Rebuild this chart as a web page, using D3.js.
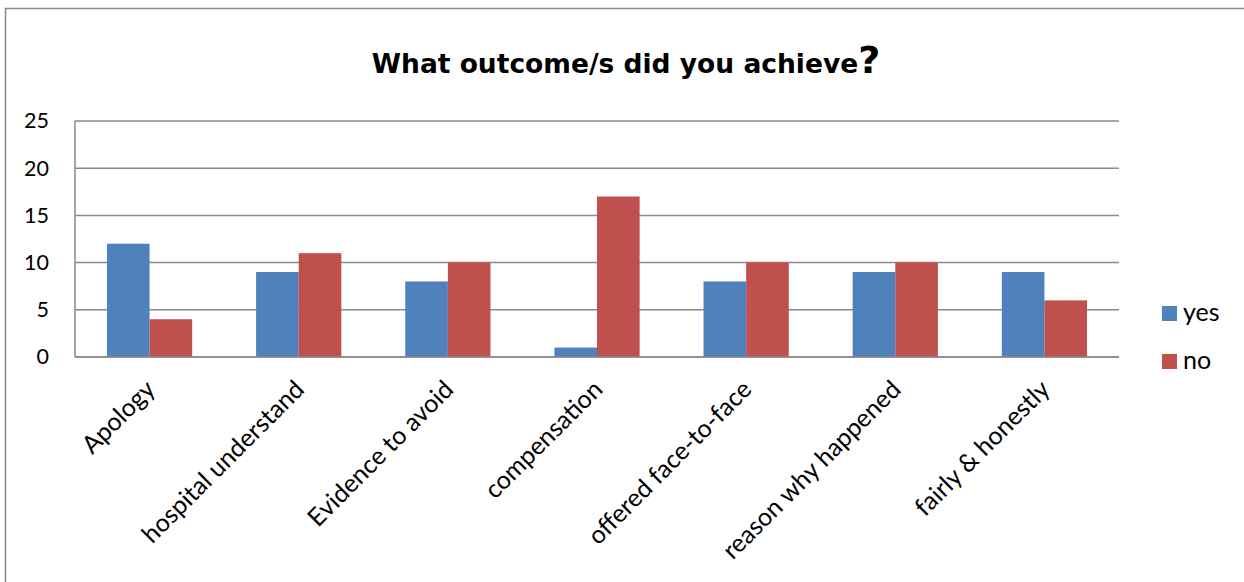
<!DOCTYPE html>
<html>
<head>
<meta charset="utf-8">
<script src="https://cdn.jsdelivr.net/npm/d3@7"></script>
<style>
  html, body { margin: 0; padding: 0; background: #fff; }
  svg { display: block; }
</style>
</head>
<body>
<svg id="chart" width="1244" height="582"></svg>
<script>
// Survey outcomes: counts of "yes" and "no" answers per outcome
const categories = ["Apology", "hospital understand", "Evidence to avoid", "compensation",
                    "offered face-to-face", "reason why happened", "fairly & honestly"];
const yesValues = [12, 9, 8, 1, 8, 9, 9];
const noValues  = [4, 11, 10, 17, 10, 10, 6];
const seriesNames = ["yes", "no"];
const yTicks = [0, 5, 10, 15, 20, 25];

const colors = { yes: "#4F81BD", no: "#C0504D" };
const labelFont = "Lato, 'Open Sans', sans-serif";

const svg = d3.select("#chart");
const W = 1244, H = 582;
const plot = { left: 75, right: 1119, top: 121, bottom: 357 };

// Outer chart frame
svg.append("rect")
  .attr("x", 5.5).attr("y", 8.5)
  .attr("width", W + 10).attr("height", H + 10)
  .attr("fill", "#fff")
  .attr("stroke", "#8a8a8a").attr("stroke-width", 1.5);

// Title
const title = svg.append("text")
  .attr("x", 626).attr("y", 73)
  .attr("text-anchor", "middle")
  .attr("font-family", "'DejaVu Sans', sans-serif")
  .attr("font-weight", "bold")
  .attr("font-size", 26.5)
  .attr("fill", "#000");
title.append("tspan").text("What outcome/s did you achieve");
title.append("tspan").attr("font-size", 38).text("?");

// Scales
const x0 = d3.scaleBand().domain(categories).range([plot.left, plot.right]).paddingInner(0).paddingOuter(0);
const x1 = d3.scaleBand().domain(seriesNames).range([0, x0.bandwidth()]).paddingInner(0).paddingOuter(0.75);
const y = d3.scaleLinear().domain([0, 25]).range([plot.bottom, plot.top]);

// Horizontal gridlines
svg.append("g")
  .selectAll("line")
  .data(yTicks)
  .join("line")
  .attr("x1", plot.left).attr("x2", plot.right)
  .attr("y1", d => y(d)).attr("y2", d => y(d))
  .attr("stroke", "#8a8a8a").attr("stroke-width", 1.5);

// Bars
const rows = categories.map((c, i) => ({ cat: c, yes: yesValues[i], no: noValues[i] }));
const groups = svg.append("g")
  .selectAll("g")
  .data(rows)
  .join("g")
  .attr("transform", d => `translate(${x0(d.cat)},0)`);

groups.selectAll("rect")
  .data(d => seriesNames.map(s => ({ key: s, value: d[s] })))
  .join("rect")
  .attr("x", d => x1(d.key))
  .attr("width", x1.bandwidth())
  .attr("y", d => y(d.value))
  .attr("height", d => y(0) - y(d.value))
  .attr("fill", d => colors[d.key]);

// Value axis line and baseline
svg.append("line")
  .attr("x1", plot.left).attr("x2", plot.left)
  .attr("y1", plot.top).attr("y2", plot.bottom)
  .attr("stroke", "#8a8a8a").attr("stroke-width", 1.5);
svg.append("line")
  .attr("x1", plot.left).attr("x2", plot.right)
  .attr("y1", plot.bottom).attr("y2", plot.bottom)
  .attr("stroke", "#8a8a8a").attr("stroke-width", 1.5);

// Y axis labels
const yAxis = d3.axisLeft(y).tickValues(yTicks).tickSize(0).tickPadding(26);
const yg = svg.append("g").attr("transform", `translate(${plot.left},0)`).call(yAxis);
yg.select(".domain").remove();
yg.selectAll("text")
  .attr("font-family", labelFont)
  .attr("font-size", 21.5)
  .attr("fill", "#000");

// Category labels, rotated
const xAxis = d3.axisBottom(x0).tickSize(0).tickPadding(0);
const xg = svg.append("g").attr("transform", `translate(0,${plot.bottom})`).call(xAxis);
xg.select(".domain").remove();
xg.selectAll("text")
  .attr("font-family", labelFont)
  .attr("font-size", 25)
  .attr("fill", "#000")
  .attr("text-anchor", "end")
  .attr("dy", 0)
  .attr("y", 0)
  .attr("transform", "translate(7,34) rotate(-45)");

// Legend
const legend = svg.append("g")
  .selectAll("g")
  .data(seriesNames)
  .join("g")
  .attr("transform", (d, i) => `translate(1162,${306 + i * 48})`);
legend.append("rect")
  .attr("width", 15).attr("height", 15)
  .attr("fill", d => colors[d]);
legend.append("text")
  .attr("x", 21).attr("y", 15)
  .attr("font-family", labelFont)
  .attr("font-size", 25)
  .attr("fill", "#000")
  .text(d => d);
</script>
</body>
</html>
